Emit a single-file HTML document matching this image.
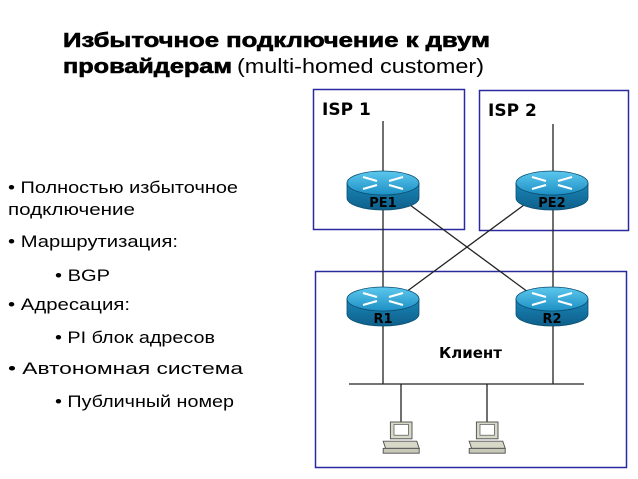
<!DOCTYPE html>
<html><head><meta charset="utf-8"><style>
html,body{margin:0;padding:0;background:#fff}
svg{display:block}
.t{font-family:"Liberation Sans",sans-serif;fill:#000}
</style></head><body>
<svg width="638" height="479" viewBox="0 0 638 479" xmlns="http://www.w3.org/2000/svg">
<defs>
<linearGradient id="rt" x1="0" y1="0" x2="0" y2="1"><stop offset="0" stop-color="#5cc8ee"/><stop offset="1" stop-color="#1d8fc4"/></linearGradient>
<linearGradient id="rs" x1="0" y1="0" x2="0" y2="1"><stop offset="0" stop-color="#1a86b8"/><stop offset="1" stop-color="#0e5f8a"/></linearGradient>
<g id="router">
<path d="M-36,-7 L-36,8 A36,12 0 0 0 36,8 L36,-7 Z" fill="url(#rs)" stroke="#0b4d70" stroke-width="0.8"/>
<ellipse cx="0" cy="-7" rx="36" ry="12" fill="url(#rt)" stroke="#0b4d70" stroke-width="0.8"/>
<g stroke="#fff" stroke-width="2.2" fill="none">
<path d="M-20,-13 L-6,-9"/><path d="M20,-1 L6,-5"/><path d="M-20,-1 L-6,-5"/><path d="M20,-13 L6,-9"/>
</g>
</g>
<g id="pc">
<rect x="-8" y="0" width="18" height="14" fill="#d8d8c8" stroke="#555" stroke-width="0.8"/>
<rect x="-5" y="2" width="12" height="9" fill="#fff" stroke="#555" stroke-width="0.6"/>
<path d="M-14,16 L14,16 L16,22 L-12,22 Z" fill="#d8d8c8" stroke="#555" stroke-width="0.8"/>
<rect x="-14" y="22" width="30" height="4" fill="#c8c8b8" stroke="#555" stroke-width="0.8"/>
</g>
</defs>
<text class="t" x="63" y="47" font-size="20" font-weight="900" stroke="#000" stroke-width="0.6" textLength="427" lengthAdjust="spacingAndGlyphs">Избыточное  подключение к двум</text>
<text class="t" x="63" y="73" font-size="20" font-weight="900" stroke="#000" stroke-width="0.6" textLength="169" lengthAdjust="spacingAndGlyphs">провайдерам</text>
<text class="t" x="237" y="73" font-size="20" textLength="247" lengthAdjust="spacingAndGlyphs">(multi-homed customer)</text>

<g class="t" font-size="17">
<text x="8" y="193" textLength="230" lengthAdjust="spacingAndGlyphs">• Полностью избыточное</text>
<text x="8" y="215" textLength="127" lengthAdjust="spacingAndGlyphs">подключение</text>
<text x="8" y="247" textLength="170" lengthAdjust="spacingAndGlyphs">• Маршрутизация:</text>
<text x="55" y="281" textLength="55" lengthAdjust="spacingAndGlyphs">•  BGP</text>
<text x="8" y="310" textLength="122" lengthAdjust="spacingAndGlyphs">• Адресация:</text>
<text x="55" y="343" textLength="160" lengthAdjust="spacingAndGlyphs">•  PI блок адресов</text>
<text x="8" y="374" textLength="235" lengthAdjust="spacingAndGlyphs">• Автономная система</text>
<text x="55" y="407" textLength="179" lengthAdjust="spacingAndGlyphs">•  Публичный номер</text>
</g>

<rect x="313.5" y="89.5" width="151" height="140" fill="none" stroke="#2a2aa0" stroke-width="1.5"/>
<rect x="479.5" y="90.5" width="149" height="140" fill="none" stroke="#2a2aa0" stroke-width="1.5"/>
<rect x="315.5" y="271.5" width="311" height="196" fill="none" stroke="#2a2aa0" stroke-width="1.5"/>
<text x="322" y="115" font-family="DejaVu Sans,sans-serif" font-weight="bold" font-size="17">ISP 1</text>
<text x="488" y="116" font-family="DejaVu Sans,sans-serif" font-weight="bold" font-size="17">ISP 2</text>
<text x="439" y="358" font-family="DejaVu Sans,sans-serif" font-weight="bold" font-size="15">Клиент</text>

<g stroke="#222" stroke-width="1.3">
<line x1="383" y1="121" x2="383" y2="384"/>
<line x1="553" y1="124" x2="553" y2="384"/>
<line x1="410" y1="205" x2="528" y2="292"/>
<line x1="524" y1="205" x2="406" y2="292"/>
<line x1="349" y1="384" x2="584" y2="384"/>
<line x1="401" y1="384" x2="401" y2="422"/>
<line x1="487" y1="384" x2="487" y2="422"/>
</g>
<use href="#router" x="383" y="190"/>
<use href="#router" x="552" y="190"/>
<use href="#router" x="383" y="306"/>
<use href="#router" x="552" y="306"/>
<g font-family="DejaVu Sans,sans-serif" font-weight="bold" font-size="13" fill="#000" text-anchor="middle">
<text x="383" y="207">PE1</text><text x="552" y="207">PE2</text>
<text x="383" y="323">R1</text><text x="552" y="323">R2</text>
</g>
<use href="#pc" transform="translate(400,422) scale(1.2)"/>
<use href="#pc" transform="translate(486,422) scale(1.2)"/>
</svg>
</body></html>
